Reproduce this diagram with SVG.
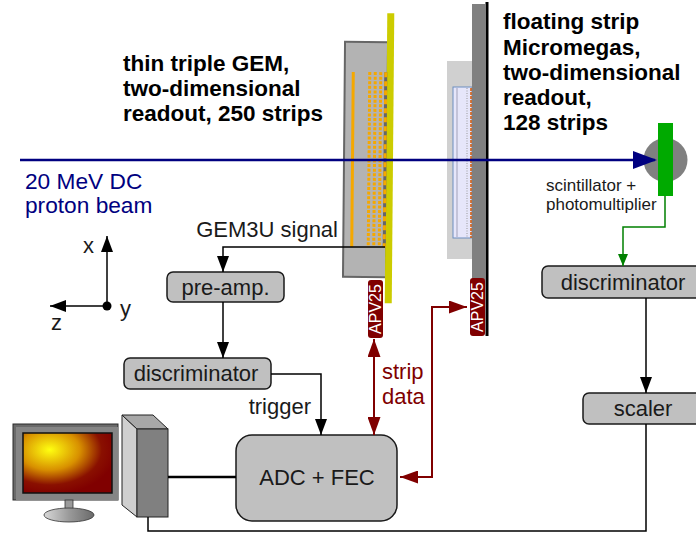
<svg xmlns="http://www.w3.org/2000/svg" width="696" height="533" viewBox="0 0 696 533">
  <defs>
    <style>
      .lbl { font-family: "Liberation Sans", Arial, sans-serif; font-size: 22px; fill: #1a1a1a; }
      .head { font-family: "Liberation Sans", Arial, sans-serif; font-size: 22.5px; font-weight: bold; fill: #000; }
      .beamtxt { font-family: "Liberation Sans", Arial, sans-serif; font-size: 22.7px; fill: #000080; }
      .red { font-family: "Liberation Sans", Arial, sans-serif; font-size: 22px; fill: #800000; }
      .small { font-family: "Liberation Sans", Arial, sans-serif; font-size: 17px; fill: #1a1a1a; }
      .apv { font-family: "Liberation Sans", Arial, sans-serif; font-size: 16px; fill: #fff; }
      .box { fill: #c0c0c0; stroke: #1a1a1a; stroke-width: 1.5; }
      .wire { fill: none; stroke: #000; stroke-width: 1.5; }
      .rwire { fill: none; stroke: #800000; stroke-width: 2; }
      .gwire { fill: none; stroke: #008000; stroke-width: 1.5; }
      .strip { stroke: #f5a800; stroke-width: 3; stroke-dasharray: 3 1.6; }
    </style>
    <marker id="ahBlack" markerUnits="userSpaceOnUse" markerWidth="16" markerHeight="12" refX="16" refY="6" orient="auto">
      <path d="M0,0 L16,6 L0,12 z" fill="#000"/>
    </marker>
    <marker id="ahRed" markerUnits="userSpaceOnUse" markerWidth="18" markerHeight="13" refX="18" refY="6.5" orient="auto-start-reverse">
      <path d="M0,0 L18,6.5 L0,13 z" fill="#800000"/>
    </marker>
    <marker id="ahGreen" markerUnits="userSpaceOnUse" markerWidth="12" markerHeight="10" refX="12" refY="5" orient="auto">
      <path d="M0,0 L12,5 L0,10 z" fill="#008000"/>
    </marker>
    <marker id="ahBeam" markerUnits="userSpaceOnUse" markerWidth="24" markerHeight="18" refX="22" refY="9" orient="auto">
      <path d="M0,0 L24,9 L0,18 z" fill="#000080"/>
    </marker>
    <radialGradient id="screenGlow" cx="0.3" cy="0.28" r="0.75">
      <stop offset="0" stop-color="#ffff10"/>
      <stop offset="0.45" stop-color="#d89000"/>
      <stop offset="0.78" stop-color="#8a1000"/>
      <stop offset="1" stop-color="#800000"/>
    </radialGradient>
    <linearGradient id="baseShade" x1="0" y1="0" x2="1" y2="0">
      <stop offset="0" stop-color="#d8d8d8"/>
      <stop offset="0.5" stop-color="#9a9a9a"/>
      <stop offset="1" stop-color="#6a6a6a"/>
    </linearGradient>
  </defs>

  <rect width="696" height="533" fill="#fff"/>

  <!-- triple GEM detector with its readout strips -->
  <g id="gem" transform="rotate(0.5 365 160)">
    <rect x="344" y="42" width="43" height="235" fill="#b3b3b3" stroke="#666" stroke-width="2"/>
    <rect x="386" y="13" width="7" height="290" fill="#cccc00"/>
    <line x1="352.5" y1="72" x2="352.5" y2="247" stroke="#f5a800" stroke-width="3"/>
    <line class="strip" x1="369" y1="72" x2="369" y2="247"/>
    <line class="strip" x1="374.5" y1="72" x2="374.5" y2="247"/>
    <line class="strip" x1="380" y1="72" x2="380" y2="247"/>
    <line x1="385" y1="72" x2="385" y2="247" stroke="#666" stroke-width="3"/>
    <line x1="385" y1="72" x2="385" y2="247" stroke="#f5a800" stroke-width="3" stroke-dasharray="5 4"/>
  </g>
  <g id="apv-gem">
    <rect x="368" y="280" width="15" height="58" rx="3" fill="#800000"/>
    <text class="apv" transform="translate(381 309) rotate(-90)" text-anchor="middle">APV25</text>
  </g>

  <!-- floating strip Micromegas -->
  <g id="micromegas">
    <rect x="447" y="61" width="25" height="198" fill="#d0d0d0"/>
    <rect x="453" y="87" width="19" height="151" fill="#e6e6fa" stroke="#6c8ebf" stroke-width="1"/>
    <line x1="457" y1="88" x2="457" y2="237" stroke="#a0a0b8" stroke-width="1"/>
    <line x1="467" y1="88" x2="467" y2="237" stroke="#999" stroke-width="1" stroke-dasharray="1 1.5"/>
    <line x1="471" y1="88" x2="471" y2="238" stroke="#d45500" stroke-width="1.5" stroke-dasharray="3 1"/>
    <rect x="472" y="4" width="13" height="276" fill="#808080"/>
    <line x1="487" y1="2" x2="487" y2="336" stroke="#000" stroke-width="3"/>
  </g>
  <g id="apv-mm">
    <rect x="470" y="278" width="15" height="58" rx="3" fill="#800000"/>
    <text class="apv" transform="translate(483 307) rotate(-90)" text-anchor="middle">APV25</text>
  </g>

  <!-- scintillator + photomultiplier -->
  <g id="scintillator">
    <circle cx="665.5" cy="160" r="22" fill="#808080"/>
    <rect x="658" y="123" width="15" height="73" fill="#00aa00"/>
  </g>

  <!-- processing chain -->
  <g id="preamp">
    <rect class="box" x="167" y="272" width="117" height="30" rx="6"/>
    <text class="lbl" x="225.5" y="295" text-anchor="middle">pre-amp.</text>
  </g>
  <g id="disc-left">
    <rect class="box" x="124" y="358" width="147" height="31" rx="6"/>
    <text class="lbl" x="196" y="381" text-anchor="middle">discriminator</text>
  </g>
  <g id="adc-fec">
    <rect class="box" x="236" y="435" width="161" height="86" rx="16"/>
    <text class="lbl" x="317" y="485" text-anchor="middle">ADC + FEC</text>
  </g>
  <g id="disc-right">
    <rect class="box" x="542" y="266" width="164" height="32" rx="6"/>
    <text class="lbl" x="623" y="290" text-anchor="middle">discriminator</text>
  </g>
  <g id="scaler">
    <rect class="box" x="583" y="393" width="122" height="31" rx="6"/>
    <text class="lbl" x="643" y="416" text-anchor="middle">scaler</text>
  </g>

  <!-- computer -->
  <g id="computer">
    <rect x="13" y="424" width="105" height="76" fill="#6a6a6a" stroke="#2a2a2a" stroke-width="1"/>
    <rect x="16" y="427" width="102" height="73" fill="#858585"/>
    <rect x="23" y="433" width="89" height="60" fill="url(#screenGlow)" stroke="#111" stroke-width="1.5"/>
    <rect x="65" y="500" width="8" height="13" fill="#9a9a9a" stroke="#333" stroke-width="0.8"/>
    <ellipse cx="69" cy="515" rx="25" ry="7" fill="url(#baseShade)" stroke="#333" stroke-width="0.8"/>
    <polygon points="122,415 137,429 137,517 122,505" fill="#cfcfcf" stroke="#222" stroke-width="1"/>
    <polygon points="122,415 153,415 168,429 137,429" fill="#a8a8a8" stroke="#222" stroke-width="1"/>
    <rect x="137" y="429" width="31" height="88" fill="#808080" stroke="#222" stroke-width="1"/>
  </g>

  <!-- connectors -->
  <g id="connectors">
    <line x1="20" y1="160" x2="655" y2="160" stroke="#000080" stroke-width="2.5" marker-end="url(#ahBeam)"/>
    <polyline class="wire" points="385,247 223,247 223,272" marker-end="url(#ahBlack)"/>
    <line class="wire" x1="223" y1="302" x2="223" y2="358" marker-end="url(#ahBlack)"/>
    <polyline class="wire" points="271,374 321,374 321,435" marker-end="url(#ahBlack)"/>
    <line class="rwire" x1="374" y1="339" x2="374" y2="435" marker-start="url(#ahRed)" marker-end="url(#ahRed)"/>
    <polyline class="rwire" points="467,307 432,307 432,477 400,477" marker-start="url(#ahRed)" marker-end="url(#ahRed)"/>
    <polyline class="gwire" points="665,196 665,227 623,227 623,266" marker-end="url(#ahGreen)"/>
    <line class="wire" x1="646" y1="298" x2="646" y2="393" marker-end="url(#ahBlack)"/>
    <polyline class="wire" points="646,424 646,531 148,531 148,517"/>
    <line x1="168" y1="477" x2="236" y2="477" stroke="#000" stroke-width="2.5"/>
  </g>

  <!-- coordinate axes -->
  <g id="axes">
    <line class="wire" x1="107" y1="306" x2="107" y2="236" marker-end="url(#ahBlack)"/>
    <line class="wire" x1="107" y1="306" x2="50" y2="306" marker-end="url(#ahBlack)"/>
    <circle cx="107" cy="306" r="4.5" fill="#000"/>
    <text class="lbl" x="83" y="253">x</text>
    <text class="lbl" x="120" y="316">y</text>
    <text class="lbl" x="51" y="330">z</text>
  </g>

  <!-- labels -->
  <g id="labels">
    <text class="head" x="123" y="71">thin triple GEM,</text>
    <text class="head" x="123" y="96">two-dimensional</text>
    <text class="head" x="123" y="121">readout, 250 strips</text>
    <text class="head" x="503" y="29">floating strip</text>
    <text class="head" x="503" y="55">Micromegas,</text>
    <text class="head" x="503" y="80">two-dimensional</text>
    <text class="head" x="503" y="105">readout,</text>
    <text class="head" x="503" y="130">128 strips</text>
    <text class="beamtxt" x="25" y="189">20 MeV DC</text>
    <text class="beamtxt" x="25" y="213">proton beam</text>
    <text class="lbl" x="338" y="237" text-anchor="end">GEM3U signal</text>
    <text class="lbl" x="311" y="414" text-anchor="end">trigger</text>
    <text class="red" x="382" y="379">strip</text>
    <text class="red" x="382" y="404">data</text>
    <text class="small" x="546" y="191">scintillator +</text>
    <text class="small" x="546" y="210">photomultiplier</text>
  </g>
</svg>
